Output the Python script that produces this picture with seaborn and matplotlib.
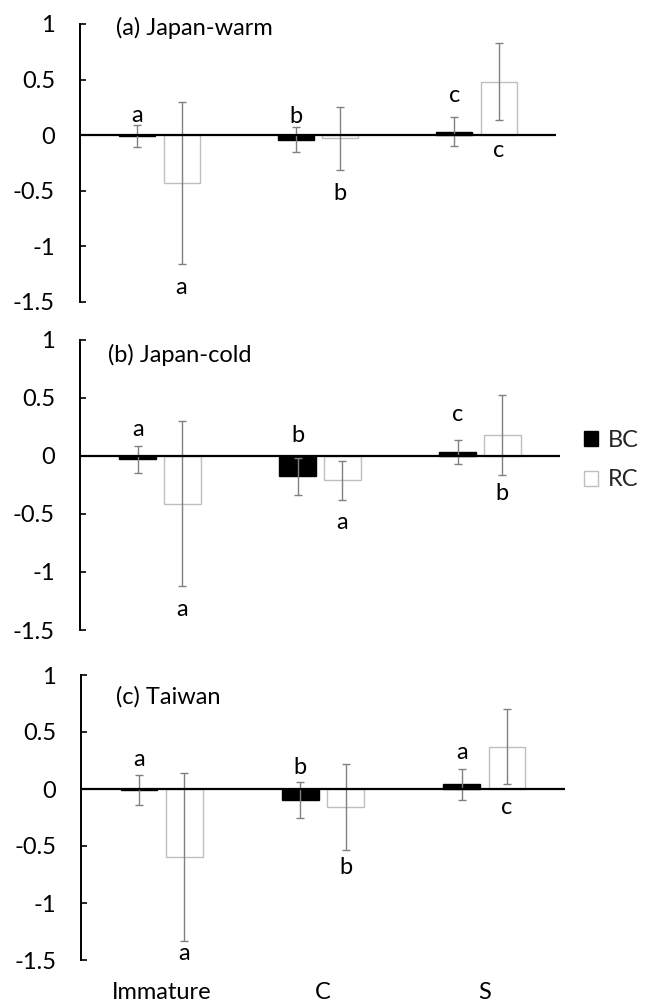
import matplotlib
matplotlib.use("Agg")
import matplotlib.pyplot as plt
from matplotlib.patches import Patch
from matplotlib.container import BarContainer
import seaborn as sns
import pandas as pd

# ---------------- data ----------------
categories = ["Immature", "C", "S"]
groups = ["BC", "RC"]
panel_titles = ["(a) Japan-warm", "(b) Japan-cold", "(c) Taiwan"]

warm_bc_mean = [-0.01, -0.04, 0.03]
warm_bc_err = [0.10, 0.115, 0.13]
warm_rc_mean = [-0.43, -0.03, 0.48]
warm_rc_err = [0.73, 0.28, 0.345]

cold_bc_mean = [-0.03, -0.175, 0.035]
cold_bc_err = [0.115, 0.16, 0.105]
cold_rc_mean = [-0.41, -0.21, 0.18]
cold_rc_err = [0.71, 0.17, 0.345]

taiwan_bc_mean = [-0.01, -0.095, 0.04]
taiwan_bc_err = [0.13, 0.158, 0.135]
taiwan_rc_mean = [-0.60, -0.16, 0.37]
taiwan_rc_err = [0.737, 0.375, 0.33]

warm_bc_letters = ["a", "b", "c"]
warm_rc_letters = ["a", "b", "c"]
cold_bc_letters = ["a", "b", "c"]
cold_rc_letters = ["a", "a", "b"]
taiwan_bc_letters = ["a", "b", "a"]
taiwan_rc_letters = ["a", "b", "c"]

# y-values (data units) where the significance letters sit
warm_bc_letter_y = [0.18, 0.165, 0.36]
warm_rc_letter_y = [-1.37, -0.525, -0.135]
cold_bc_letter_y = [0.23, 0.179, 0.357]
cold_rc_letter_y = [-1.325, -0.57, -0.326]
taiwan_bc_letter_y = [0.26, 0.188, 0.319]
taiwan_rc_letter_y = [-1.443, -0.69, -0.16]

y_ticks = [-1.5, -1, -0.5, 0, 0.5, 1]
y_tick_labels = ["-1.5", "-1", "-0.5", "0", "0.5", "1"]

panels = [
    (warm_bc_mean, warm_bc_err, warm_rc_mean, warm_rc_err,
     warm_bc_letters, warm_rc_letters, warm_bc_letter_y, warm_rc_letter_y),
    (cold_bc_mean, cold_bc_err, cold_rc_mean, cold_rc_err,
     cold_bc_letters, cold_rc_letters, cold_bc_letter_y, cold_rc_letter_y),
    (taiwan_bc_mean, taiwan_bc_err, taiwan_rc_mean, taiwan_rc_err,
     taiwan_bc_letters, taiwan_rc_letters, taiwan_bc_letter_y, taiwan_rc_letter_y),
]

# ---------------- style ----------------
sns.set_theme(style="white")
plt.rcParams["font.family"] = ["Lato", "DejaVu Sans"]
plt.rcParams["axes.unicode_minus"] = False
FS = 17

W, H = 646, 1005
fig = plt.figure(figsize=(W / 100, H / 100), dpi=100)

# axes rectangles in pixels: left, right, top(y=1), bottom(y=-1.5)
rects_px = [(80, 556, 24, 301.7), (80, 560, 340, 630), (81, 565, 675, 960)]
title_pos = [(-0.27, 0.96), (-0.325, 0.87), (-0.28, 0.81)]

RC_EDGE = "#bfbfbf"
ERR_COL = "#808080"

for i, (rect, panel, title, tpos) in enumerate(zip(rects_px, panels, panel_titles, title_pos)):
    l, r, t, b = rect
    ax = fig.add_axes([l / W, 1 - b / H, (r - l) / W, (b - t) / H])
    bc_m, bc_e, rc_m, rc_e, bc_l, rc_l, bc_ly, rc_ly = panel

    df = pd.DataFrame({
        "category": categories * 2,
        "group": ["BC"] * 3 + ["RC"] * 3,
        "value": list(bc_m) + list(rc_m),
    })
    sns.barplot(data=df, x="category", y="value", hue="group",
                order=categories, hue_order=groups,
                palette={"BC": "black", "RC": "white"},
                width=0.56, gap=0.19, errorbar=None, legend=False,
                linewidth=1.0, ax=ax)

    edge_cols = ["black", RC_EDGE]
    means = [bc_m, rc_m]
    errs = [bc_e, rc_e]
    letters = [bc_l, rc_l]
    letter_ys = [bc_ly, rc_ly]
    bar_conts = [c for c in ax.containers if isinstance(c, BarContainer)]
    for k, cont in enumerate(bar_conts):
        xs = []
        for p in cont.patches:
            p.set_edgecolor(edge_cols[k])
            p.set_linewidth(1.0)
            xs.append(p.get_x() + p.get_width() / 2)
        ax.errorbar(xs, means[k], yerr=errs[k], fmt="none", ecolor=ERR_COL,
                    elinewidth=1.0, capsize=3.0, capthick=1.0, zorder=4)
        for x, lab, ly in zip(xs, letters[k], letter_ys[k]):
            ax.text(x, ly, lab, ha="center", va="center", fontsize=FS, color="black")

    ax.axhline(0, color="black", lw=1.6, zorder=5)
    ax.set_xlim(-0.5, 2.5)
    ax.set_ylim(-1.5, 1)
    ax.set_yticks(y_ticks)
    ax.set_yticklabels(y_tick_labels, fontsize=FS)
    ax.tick_params(axis="y", direction="in", length=4.5, width=1.2, pad=18,
                   colors="black", left=True)
    ax.set_xlabel("")
    ax.set_ylabel("")
    for s in ["top", "right", "bottom"]:
        ax.spines[s].set_visible(False)
    ax.spines["left"].set_color("black")
    ax.spines["left"].set_linewidth(1.4)
    ax.set_facecolor("white")

    if i == 2:
        ax.set_xticks(range(len(categories)))
        ax.set_xticklabels(categories, fontsize=FS)
        ax.tick_params(axis="x", length=0, pad=16, colors="black")
    else:
        ax.set_xticks([])

    ax.text(tpos[0], tpos[1], title, ha="left", va="center", fontsize=FS, color="black")

    if i == 1:
        handles = [Patch(facecolor="black", edgecolor="black", lw=1.0),
                   Patch(facecolor="white", edgecolor=RC_EDGE, lw=1.0)]
        fig.legend(handles, groups, loc="center left",
                   bbox_to_anchor=(584 / W, 1 - 460 / H), frameon=False,
                   fontsize=FS, handlelength=0.6, handleheight=0.6,
                   handletextpad=0.4, labelspacing=0.8, borderpad=0,
                   borderaxespad=0)

fig.savefig("out.png", dpi=100, facecolor="white")
